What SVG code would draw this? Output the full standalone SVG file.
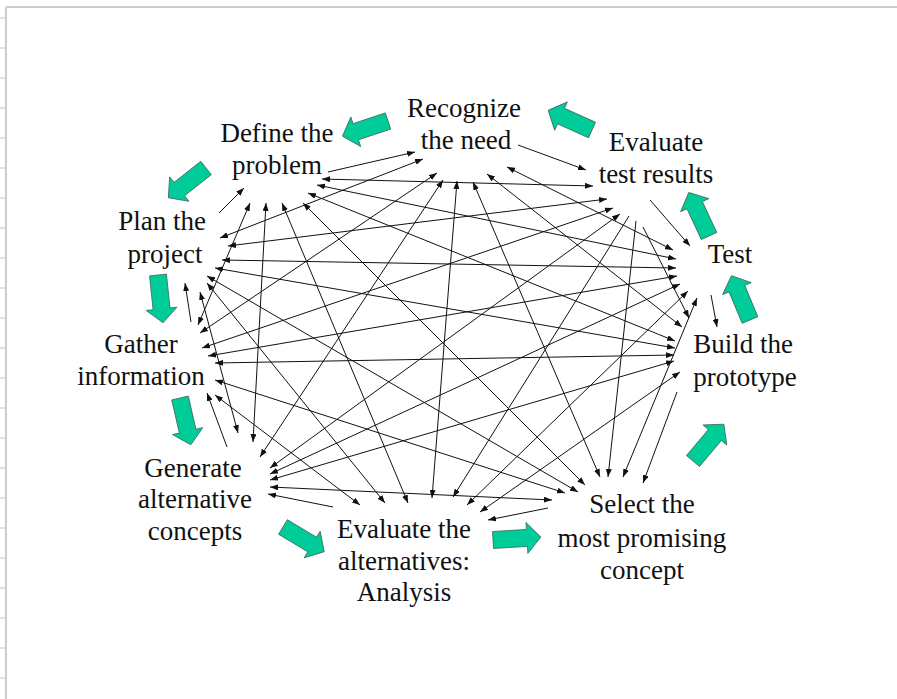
<svg xmlns="http://www.w3.org/2000/svg" xmlns:xlink="http://www.w3.org/1999/xlink" width="897" height="699" viewBox="0 0 897 699">
<style>
.lbl{font-family:"Liberation Serif","Times New Roman",serif;font-size:27px;fill:#111;text-anchor:middle}
.e{stroke:#111;stroke-width:1;fill:none;marker-start:url(#ah);marker-end:url(#ah)}
.s{stroke:#111;stroke-width:1;fill:none;marker-end:url(#ah)}
.blk{fill:#00CC99;stroke:#3a6a5a;stroke-width:0.8}
.tick{stroke:#cfe6f7;stroke-width:2}
</style>
<defs>
<marker id="ah" viewBox="0 0 8 6" markerWidth="8" markerHeight="6" refX="8" refY="3" orient="auto-start-reverse" markerUnits="userSpaceOnUse">
<path d="M0,0 L8,3 L0,6 z" fill="#111"/>
</marker>
<path id="blkarrow" d="M0,-8.5 L34,-8.5 L34,-15.5 L48,0 L34,15.5 L34,8.5 L0,8.5 z"/>
</defs>
<rect x="0" y="0" width="897" height="699" fill="#fff"/>
<g id="frame">
<line x1="6" y1="7" x2="897" y2="7" stroke="#cccccc" stroke-width="2"/>
<line x1="6" y1="7" x2="6" y2="699" stroke="#cccccc" stroke-width="2"/>
<line class="tick" x1="0" y1="18" x2="5" y2="18"/><line class="tick" x1="0" y1="48" x2="5" y2="48"/>
<line class="tick" x1="0" y1="78" x2="5" y2="78"/><line class="tick" x1="0" y1="108" x2="5" y2="108"/>
<line class="tick" x1="0" y1="138" x2="5" y2="138"/><line class="tick" x1="0" y1="168" x2="5" y2="168"/>
<line class="tick" x1="0" y1="198" x2="5" y2="198"/><line class="tick" x1="0" y1="228" x2="5" y2="228"/>
<line class="tick" x1="0" y1="258" x2="5" y2="258"/><line class="tick" x1="0" y1="288" x2="5" y2="288"/>
<line class="tick" x1="0" y1="318" x2="5" y2="318"/><line class="tick" x1="0" y1="348" x2="5" y2="348"/>
<line class="tick" x1="0" y1="378" x2="5" y2="378"/><line class="tick" x1="0" y1="408" x2="5" y2="408"/>
<line class="tick" x1="0" y1="438" x2="5" y2="438"/><line class="tick" x1="0" y1="468" x2="5" y2="468"/>
<line class="tick" x1="0" y1="498" x2="5" y2="498"/><line class="tick" x1="0" y1="528" x2="5" y2="528"/>
<line class="tick" x1="0" y1="558" x2="5" y2="558"/><line class="tick" x1="0" y1="588" x2="5" y2="588"/>
<line class="tick" x1="0" y1="618" x2="5" y2="618"/><line class="tick" x1="0" y1="648" x2="5" y2="648"/>
<line class="tick" x1="0" y1="678" x2="5" y2="678"/>
</g>
<g id="connectors">
<path class="e" d="M507,167 L673,250"/>
<path class="e" d="M487,174 L682,327"/>
<path class="e" d="M473,182 L600,477"/>
<path class="e" d="M457,181 L432,498"/>
<path class="e" d="M443,180 L260,457"/>
<path class="e" d="M437,173 L200,333"/>
<path class="e" d="M423,159 L220,238"/>
<path class="s" d="M643,227 L689,318"/>
<path class="s" d="M636,221 L608,477"/>
<path class="s" d="M629,216 L453,497"/>
<path class="e" d="M620,214 L270,468"/>
<path class="e" d="M613,208 L202,348"/>
<path class="e" d="M607,199 L228,246"/>
<path class="e" d="M593,186 L322,179"/>
<path class="e" d="M697,298 L623,477"/>
<path class="e" d="M688,291 L467,505"/>
<path class="e" d="M680,284 L270,474"/>
<path class="e" d="M677,276 L208,356"/>
<path class="e" d="M676,268 L222,260"/>
<path class="e" d="M676,259 L317,185"/>
<path class="e" d="M680,372 L480,512"/>
<path class="e" d="M674,361 L270,480"/>
<path class="e" d="M674,355 L215,363"/>
<path class="e" d="M675,348 L215,268"/>
<path class="e" d="M675,341 L308,193"/>
<path class="e" d="M552,500 L270,487"/>
<path class="e" d="M565,493 L215,380"/>
<path class="e" d="M578,492 L207,276"/>
<path class="e" d="M585,485 L303,203"/>
<path class="e" d="M360,505 L215,395"/>
<path class="e" d="M385,503 L207,283"/>
<path class="e" d="M408,503 L282,203"/>
<path class="e" d="M238,433 L200,292"/>
<path class="e" d="M253,442 L266,203"/>
<path class="e" d="M198,325 L250,203"/>
<path class="s" d="M328,172 L415,152"/>
<path class="s" d="M518,145 L586,170"/>
<path class="s" d="M650,200 L690,246"/>
<path class="s" d="M711,295 L717,327"/>
<path class="s" d="M677,392 L643,483"/>
<path class="s" d="M548,508 L488,520"/>
<path class="s" d="M333,507 L268,494"/>
<path class="s" d="M227,447 L207,393"/>
<path class="s" d="M191,322 L185,283"/>
<path class="s" d="M219,213 L244,188"/>
</g>
<g id="cycle-arrows">
<use href="#blkarrow" class="blk" transform="translate(388,121) rotate(161.6)"/>
<use href="#blkarrow" class="blk" transform="translate(206,168) rotate(141.7)"/>
<use href="#blkarrow" class="blk" transform="translate(158,275) rotate(84)"/>
<use href="#blkarrow" class="blk" transform="translate(180,398) rotate(77)"/>
<use href="#blkarrow" class="blk" transform="translate(283,527) rotate(31)"/>
<use href="#blkarrow" class="blk" transform="translate(493,540) rotate(-3.5)"/>
<use href="#blkarrow" class="blk" transform="translate(693,461) rotate(-50)"/>
<use href="#blkarrow" class="blk" transform="translate(750,320) rotate(-112.7)"/>
<use href="#blkarrow" class="blk" transform="translate(709,236) rotate(-114.9)"/>
<use href="#blkarrow" class="blk" transform="translate(592,130) rotate(-155.8)"/>
</g>
<g id="recognize-need"><text class="lbl" x="464" y="117">Recognize</text><text class="lbl" x="466" y="149">the need</text></g>
<g id="define-problem"><text class="lbl" x="277" y="142">Define the</text><text class="lbl" x="277" y="174">problem</text></g>
<g id="plan-project"><text class="lbl" x="162" y="230">Plan the</text><text class="lbl" x="165" y="263">project</text></g>
<g id="gather-information"><text class="lbl" x="141" y="353">Gather</text><text class="lbl" x="141" y="385">information</text></g>
<g id="generate-alternatives"><text class="lbl" x="193" y="477">Generate</text><text class="lbl" x="195" y="508">alternative</text><text class="lbl" x="195" y="540">concepts</text></g>
<g id="evaluate-alternatives"><text class="lbl" x="404" y="538">Evaluate the</text><text class="lbl" x="404" y="570">alternatives:</text><text class="lbl" x="404" y="601">Analysis</text></g>
<g id="select-concept"><text class="lbl" x="642" y="513">Select the</text><text class="lbl" x="642" y="547">most promising</text><text class="lbl" x="642" y="579">concept</text></g>
<g id="build-prototype"><text class="lbl" x="743" y="353">Build the</text><text class="lbl" x="745" y="386">prototype</text></g>
<g id="test"><text class="lbl" x="730" y="263">Test</text></g>
<g id="evaluate-test-results"><text class="lbl" x="656" y="151">Evaluate</text><text class="lbl" x="656" y="183">test results</text></g>
</svg>
